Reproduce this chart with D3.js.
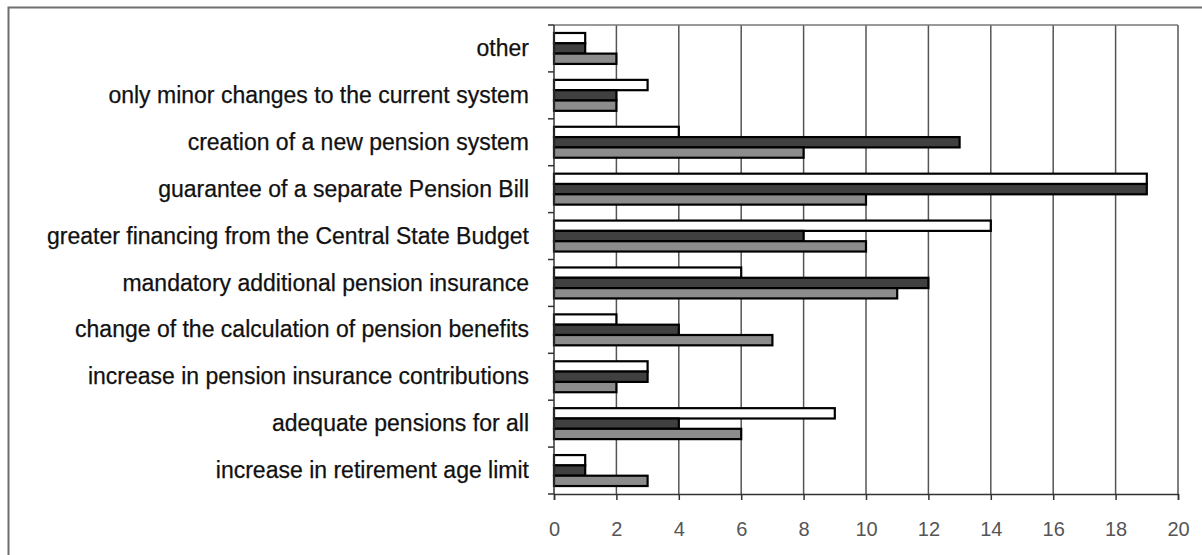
<!DOCTYPE html>
<html><head><meta charset="utf-8">
<script src="https://cdn.jsdelivr.net/npm/d3@7"></script>
<style>body{margin:0;background:#fff}svg{display:block}</style>
</head><body>
<svg id="c" width="1202" height="555"></svg>
<script>
const categories = [
  "other",
  "only minor changes to the current system",
  "creation of a new pension system",
  "guarantee of a separate Pension Bill",
  "greater financing from the Central State Budget",
  "mandatory additional pension insurance",
  "change of the calculation of pension benefits",
  "increase in pension insurance contributions",
  "adequate pensions for all",
  "increase in retirement age limit"
];
const seriesNames = ["Series 1", "Series 2", "Series 3"];
const series1 = [1, 3, 4, 19, 14, 6, 2, 3, 9, 1];
const series2 = [1, 2, 13, 19, 8, 12, 4, 3, 4, 1];
const series3 = [2, 2, 8, 10, 10, 11, 7, 2, 6, 3];
const seriesFill = ["#ffffff", "#404040", "#8c8c8c"];
const xTicks = [0, 2, 4, 6, 8, 10, 12, 14, 16, 18, 20];

(function () {
const svg = d3.select("#c");
svg.append("rect").attr("x", 8.5).attr("y", 7.5).attr("width", 1200).attr("height", 560)
  .attr("fill", "none").attr("stroke", "#6e6e6e").attr("stroke-width", 2);

const pL = 554, pR = 1178, pT = 25, pB = 494;
const x = d3.scaleLinear().domain([0, 20]).range([pL, pR]);
const y = d3.scaleBand().domain(categories).range([pT, pB]).paddingInner(0.34).paddingOuter(0.17);
const ySub = d3.scaleBand().domain(seriesNames).range([0, y.bandwidth()]);

svg.append("g").selectAll("line").data(xTicks.slice(1)).join("line")
  .attr("x1", d => x(d)).attr("x2", d => x(d)).attr("y1", pT).attr("y2", pB)
  .attr("stroke", "#555").attr("stroke-width", 1.5);
svg.append("line").attr("x1", pL).attr("x2", pR).attr("y1", pT).attr("y2", pT)
  .attr("stroke", "#777").attr("stroke-width", 1.5);

const all = [series1, series2, series3];
const g = svg.append("g");
categories.forEach((c, i) => {
  all.forEach((s, j) => {
    g.append("rect")
      .attr("x", x(0))
      .attr("y", y(c) + ySub(seriesNames[j]))
      .attr("width", x(s[i]) - x(0))
      .attr("height", ySub.bandwidth())
      .attr("fill", seriesFill[j])
      .attr("stroke", "#000").attr("stroke-width", 2.2);
  });
});

const step = (pB - pT) / categories.length;
svg.append("line").attr("x1", pL).attr("x2", pL).attr("y1", pT).attr("y2", pB)
  .attr("stroke", "#333").attr("stroke-width", 1.5);
svg.append("g").selectAll("line").data(d3.range(categories.length + 1)).join("line")
  .attr("x1", pL - 6).attr("x2", pL).attr("y1", d => pT + d * step).attr("y2", d => pT + d * step)
  .attr("stroke", "#333").attr("stroke-width", 1.5);
svg.append("g").selectAll("text").data(categories).join("text")
  .attr("x", 529).attr("y", (d, i) => pT + i * step + 31)
  .attr("text-anchor", "end")
  .attr("font-family", "Liberation Sans, Arial, sans-serif").attr("font-size", 23)
  .attr("fill", "#111").attr("stroke", "#111").attr("stroke-width", 0.25).text(d => d);

const xAxis = d3.axisBottom(x).tickValues(xTicks).tickSize(6).tickPadding(22);
const ax = svg.append("g").attr("transform", `translate(0,${pB})`).call(xAxis);
ax.select(".domain").attr("stroke", "#333").attr("stroke-width", 1.5);
ax.selectAll(".tick line").attr("stroke", "#333").attr("stroke-width", 1.5);
ax.selectAll(".tick text").attr("font-family", "Liberation Sans, Arial, sans-serif")
  .attr("font-size", 20).attr("fill", "#555");
})();
</script>
</body></html>
